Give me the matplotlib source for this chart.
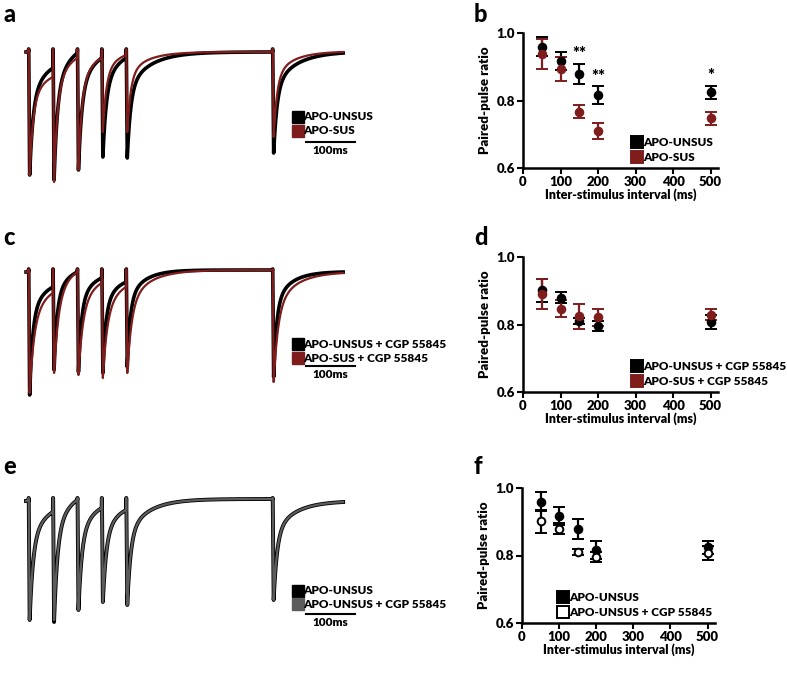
import numpy as np
import matplotlib
matplotlib.use("Agg")
import matplotlib.pyplot as plt

# ---- paired-pulse data ----
isi = [50, 100, 150, 200, 500]
xticks = [0, 100, 200, 300, 400, 500]
yticks = [0.6, 0.8, 1.0]

unsus_mean = [0.960, 0.916, 0.879, 0.816, 0.824]
unsus_sem = [0.028, 0.027, 0.030, 0.026, 0.020]
sus_mean = [0.937, 0.893, 0.767, 0.709, 0.747]
sus_sem = [0.045, 0.035, 0.019, 0.024, 0.020]
unsus_cgp_mean = [0.902, 0.880, 0.810, 0.796, 0.808]
unsus_cgp_sem = [0.034, 0.016, 0.009, 0.015, 0.021]
sus_cgp_mean = [0.891, 0.847, 0.824, 0.822, 0.829]
sus_cgp_sem = [0.045, 0.026, 0.036, 0.025, 0.017]

star_isi = [150, 200, 500]
star_text = ["**", "**", "*"]

# ---- example traces: stimulus times (ms), peak depth and pre-stimulus level (pA) ----
stim_times = [0, 50, 100, 150, 200, 500]
a_unsus_peak = [125, 130, 120, 107, 108, 103]
a_unsus_end = [18, 3, 8, 8, 2, 3]
a_sus_peak = [125, 132, 120, 82, 82, 87]
a_sus_end = [27, 8, 8, 5, 2, 2]
c_unsus_peak = [125, 100, 102, 103, 97, 107]
c_unsus_end = [17, 2, 8, 12, 0, 2]
c_sus_peak = [123, 103, 105, 108, 103, 112]
c_sus_end = [23, 2, 13, 17, 0, 3]
e_unsus_peak = [121, 123, 111, 103, 106, 101]
e_unsus_end = [13, 1, 9, 11, 0, 3]
e_cgp_peak = [121, 121, 111, 103, 106, 101]
e_cgp_end = [13, 1, 9, 11, 0, 3]

RED = "#7f1d1d"
GREY = "#5c5c5c"

plt.rcParams["font.family"] = ["Lato", "DejaVu Sans"]
plt.rcParams["font.weight"] = "heavy"
plt.rcParams["axes.labelweight"] = "heavy"

W, H = 787, 683
fig = plt.figure(figsize=(W / 100, H / 100), dpi=100)


def px_axes(left, top, right, bottom):
    return fig.add_axes([left / W, 1 - bottom / H, (right - left) / W, (bottom - top) / H])


def make_trace(t, peaks, ends, tau_fast, tau_slow, w_fast, start=2.0, artifact=1.0):
    def shape(u):
        return w_fast * np.exp(-u / tau_fast) + (1 - w_fast) * np.exp(-u / tau_slow)

    y = np.full(t.shape, -start)
    bounds = stim_times + [t[-1] + 1]
    for i, t0 in enumerate(stim_times):
        t1 = bounds[i + 1]
        m = (t >= t0) & (t < t1)
        u = t[m] - t0
        seg = np.full(u.shape, artifact)
        fall = (u >= 0.6) & (u < 2.5)
        seg[fall] = artifact + (-peaks[i] - artifact) * (u[fall] - 0.6) / 1.9
        dec = u >= 2.5
        s = shape(u[dec] - 2.5)
        s_end = shape(t1 - t0 - 2.5)
        seg[dec] = -ends[i] + (-peaks[i] + ends[i]) * (s - s_end) / (1 - s_end)
        y[m] = seg
    return y


t = np.arange(-5, 645, 0.1)


def trace_axes(baseline):
    ax = px_axes(20, baseline - 10, 400, baseline + 140)
    ax.set_xlim(-5 - 6 / 0.488, -5 + 374 / 0.488)
    ax.set_ylim(-140, 10)
    ax.axis("off")
    return ax


def trace_legend(ax, rows_y, bar_y, text_y, labels, colors):
    for ry, lab, c in zip(rows_y, labels, colors):
        ax.plot([553], [ry], marker="s", ms=8, color=c, mec=c, clip_on=False)
        ax.text(563, ry, lab, fontsize=8.5, va="center", ha="left")
    ax.plot([569, 669], [bar_y, bar_y], color="black", lw=1.5, clip_on=False)
    ax.text(619, text_y, "100ms", fontsize=8.5, ha="center", va="center")


# panel a
ax = trace_axes(50)
ax.plot(t, make_trace(t, a_unsus_peak, a_unsus_end, 7, 45, 0.65), color="black", lw=2.6)
ax.plot(t, make_trace(t, a_sus_peak, a_sus_end, 7, 38, 0.70), color=RED, lw=1.6)
trace_legend(ax, [-67, -81], -92, -100, ["APO-UNSUS", "APO-SUS"], ["black", RED])

# panel c
ax = trace_axes(270)
ax.plot(t, make_trace(t, c_unsus_peak, c_unsus_end, 6, 32, 0.68), color="black", lw=2.6)
ax.plot(t, make_trace(t, c_sus_peak, c_sus_end, 9, 42, 0.66), color=RED, lw=1.6)
trace_legend(ax, [-74, -88], -96, -105,
             ["APO-UNSUS + CGP 55845", "APO-SUS + CGP 55845"], ["black", RED])

# panel e
ax = trace_axes(499)
ax.plot(t, make_trace(t, e_unsus_peak, e_unsus_end, 7, 42, 0.67), color="black", lw=2.8)
ax.plot(t, make_trace(t, e_cgp_peak, e_cgp_end, 7, 42, 0.67), color=GREY, lw=1.6)
trace_legend(ax, [-92, -105], -115, -124,
             ["APO-UNSUS", "APO-UNSUS + CGP 55845"], ["black", GREY])


def ppr_axes(left, top, right, bottom):
    ax = px_axes(left, top, right, bottom)
    ax.set_xlim(0, 520)
    ax.set_ylim(0.6, 1.0)
    ax.set_xticks(xticks)
    ax.set_yticks(yticks)
    ax.set_yticklabels([f"{v:.1f}" for v in yticks])
    for side in ("top", "right"):
        ax.spines[side].set_visible(False)
    for side in ("left", "bottom"):
        ax.spines[side].set_linewidth(1.8)
    ax.tick_params(width=1.5, length=4, labelsize=9.5, pad=2)
    ax.set_xlabel("Inter-stimulus interval (ms)", fontsize=9, labelpad=0)
    ax.set_ylabel("Paired-pulse ratio", fontsize=9.5, labelpad=4)
    return ax


def series(ax, mean, sem, color, face=None):
    ax.errorbar(isi, mean, yerr=sem, fmt="o", ms=5.5, color=color,
                mfc=face if face else color, mec=color, mew=1.4,
                elinewidth=1.6, capsize=4, capthick=1.6, clip_on=False, zorder=3)


def ppr_legend(ax, x0, labels, colors, faces):
    for ry, lab, c, f in zip([0.19, 0.08], labels, colors, faces):
        ax.plot([x0], [ry], marker="s", ms=8, color=c, mfc=f, mec=c, mew=1.4,
                transform=ax.transAxes, clip_on=False)
        ax.text(x0 + 0.03, ry, lab, fontsize=8.5, va="center", ha="left",
                transform=ax.transAxes)


# panel b
ax = ppr_axes(523, 33, 718, 168)
series(ax, unsus_mean, unsus_sem, "black")
series(ax, sus_mean, sus_sem, RED)
for xi, txt in zip(star_isi, star_text):
    k = isi.index(xi)
    ax.text(xi, unsus_mean[k] + unsus_sem[k] + 0.028, txt, fontsize=12,
            ha="center", va="center")
ppr_legend(ax, 0.585, ["APO-UNSUS", "APO-SUS"], ["black", RED], ["black", RED])

# panel d
ax = ppr_axes(523, 257, 718, 392)
series(ax, unsus_cgp_mean, unsus_cgp_sem, "black")
series(ax, sus_cgp_mean, sus_cgp_sem, RED)
ppr_legend(ax, 0.585, ["APO-UNSUS + CGP 55845", "APO-SUS + CGP 55845"],
           ["black", RED], ["black", RED])

# panel f
ax = ppr_axes(522, 488, 715, 623)
series(ax, unsus_mean, unsus_sem, "black")
series(ax, unsus_cgp_mean, unsus_cgp_sem, "black", face="white")
ppr_legend(ax, 0.215, ["APO-UNSUS", "APO-UNSUS + CGP 55845"],
           ["black", "black"], ["black", "white"])

# panel letters
for letter, x, y in [("a", 3, 22), ("b", 474, 22), ("c", 3, 245),
                     ("d", 474, 245), ("e", 3, 474), ("f", 474, 474)]:
    fig.text(x / W, 1 - y / H, letter, fontsize=17, fontweight="black",
             ha="left", va="baseline")

fig.savefig("out.png", dpi=100)
